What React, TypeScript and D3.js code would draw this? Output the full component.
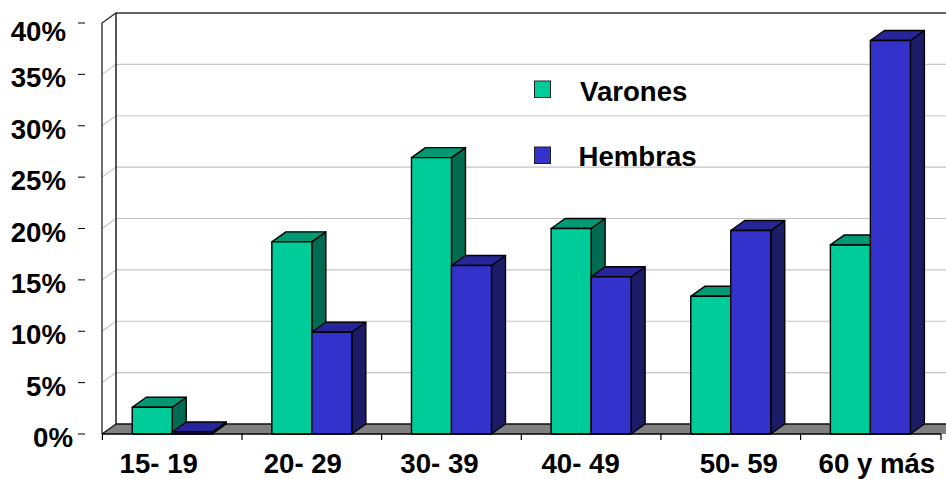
import React, { useEffect, useRef } from 'react';
import * as d3 from 'd3';

const grupos = ['15- 19', '20- 29', '30- 39', '40- 49', '50- 59', '60 y más'];
const varones = [2.6, 18.7, 26.9, 20, 13.4, 18.4];
const hembras = [0.2, 9.9, 16.4, 15.3, 19.8, 38.3];
const ticks = [0, 5, 10, 15, 20, 25, 30, 35, 40];

// los rotulos del original no estan centrados, se corrigen a mano
const nudgeX = [-13.5, -9, -12, -10.5, 8, 6.5];

const width = 946;
const height = 479;
const depthX = 14;
const depthY = 10;
const fontSize = 27.6;
const font = '"Liberation Sans", Arial, sans-serif';

const colores = {
  varones: { front: '#00CC99', top: '#009973', side: '#006B50' },
  hembras: { front: '#3333CC', top: '#262699', side: '#1B1B66' },
};

export default function App() {
  const svgRef = useRef<SVGSVGElement>(null);

  useEffect(() => {
    const svg = d3.select(svgRef.current);
    svg.selectAll('*').remove();

    const x = d3.scaleBand().domain(grupos).range([102.4, 940.2]);
    const y = d3.scaleLinear().domain([0, 40]).range([434, 23]);
    const bw = 40;

    // piso
    svg.append('path')
      .attr('d', `M102,${y(0)}L${102 + depthX},${y(0) - depthY}H${width + 2}V${y(0)}Z`)
      .attr('fill', '#808080');

    // rejilla
    ticks.slice(1, -1).forEach(t => {
      svg.append('path')
        .attr('d', `M102,${y(t)}L${102 + depthX},${y(t) - depthY}H${width}`)
        .attr('fill', 'none')
        .attr('stroke', '#C4C4C4')
        .attr('stroke-width', 1.2);
    });

    // paredes
    svg.append('path')
      .attr('d', `M102,${y(0)}V${y(40)}L${102 + depthX},${y(40) - depthY}H${width}`)
      .attr('fill', 'none')
      .attr('stroke', '#333')
      .attr('stroke-width', 1.4);
    svg.append('path')
      .attr('d', `M${102 + depthX},${y(40) - depthY}V${y(0) - depthY}H${width}`)
      .attr('fill', 'none')
      .attr('stroke', '#111')
      .attr('stroke-width', 1.4);
    svg.append('path')
      .attr('d', `M102,${y(0)}L${102 + depthX},${y(0) - depthY}`)
      .attr('stroke', '#111')
      .attr('stroke-width', 1.2);

    // barras
    const drawBar = (x0: number, value: number, c: { front: string; top: string; side: string }) => {
      const g = svg.append('g').attr('stroke', '#000').attr('stroke-width', 1.4).attr('stroke-linejoin', 'round');
      const top = y(value);
      const base = y(0);
      g.append('path')
        .attr('d', `M${x0 + bw},${top}L${x0 + bw + depthX},${top - depthY}V${base - depthY}L${x0 + bw},${base}Z`)
        .attr('fill', c.side);
      g.append('path')
        .attr('d', `M${x0},${top}L${x0 + depthX},${top - depthY}H${x0 + bw + depthX}L${x0 + bw},${top}Z`)
        .attr('fill', c.top);
      g.append('rect')
        .attr('x', x0)
        .attr('y', top)
        .attr('width', bw)
        .attr('height', base - top)
        .attr('fill', c.front);
    };

    grupos.forEach((g, i) => {
      const centro = x(g)! + x.bandwidth() / 2;
      drawBar(centro - bw, varones[i], colores.varones);
      drawBar(centro, hembras[i], colores.hembras);
    });

    // eje x
    svg.append('line')
      .attr('x1', 102).attr('x2', 941)
      .attr('y1', y(0)).attr('y2', y(0))
      .attr('stroke', '#000').attr('stroke-width', 1.6);
    [...grupos.map(g => x(g)!), 941].forEach(t => {
      svg.append('line')
        .attr('x1', t).attr('x2', t)
        .attr('y1', y(0)).attr('y2', y(0) + 6)
        .attr('stroke', '#000').attr('stroke-width', 1.2);
    });

    // 2px mas arriba que el original para que la "y" no se corte
    grupos.forEach((g, i) => {
      svg.append('text')
        .attr('x', x(g)! + x.bandwidth() / 2 + nudgeX[i])
        .attr('y', y(0) + 39)
        .attr('text-anchor', 'middle')
        .attr('font-family', font)
        .attr('font-weight', 'bold')
        .attr('font-size', fontSize)
        .attr('fill', '#000')
        .text(g);
    });

    // eje y
    ticks.forEach(t => {
      svg.append('line')
        .attr('x1', 78).attr('x2', 85)
        .attr('y1', y(t)).attr('y2', y(t))
        .attr('stroke', '#000').attr('stroke-width', 1);
      svg.append('text')
        .attr('x', t === 0 ? 73 : 66)
        .attr('y', y(t) + (t === 40 ? 18 : 13))
        .attr('text-anchor', 'end')
        .attr('font-family', font)
        .attr('font-weight', 'bold')
        .attr('font-size', fontSize)
        .attr('fill', '#000')
        .text(`${t}%`);
    });

    // leyenda
    const legend = [
      { name: 'Varones', c: colores.varones.front, sy: 81, tx: 580, ty: 100.5 },
      { name: 'Hembras', c: colores.hembras.front, sy: 147, tx: 578.5, ty: 166 },
    ];
    legend.forEach(l => {
      svg.append('rect')
        .attr('x', 534.5).attr('y', l.sy)
        .attr('width', 16).attr('height', 16.5)
        .attr('fill', l.c)
        .attr('stroke', '#222').attr('stroke-width', 1);
      svg.append('text')
        .attr('x', l.tx).attr('y', l.ty)
        .attr('font-family', font)
        .attr('font-weight', 'bold')
        .attr('font-size', fontSize)
        .attr('fill', '#000')
        .text(l.name);
    });
  }, []);

  return (
    <svg
      ref={svgRef}
      width={width}
      height={height}
      style={{ position: 'absolute', left: 0, top: 0, background: '#fff' }}
    />
  );
}
